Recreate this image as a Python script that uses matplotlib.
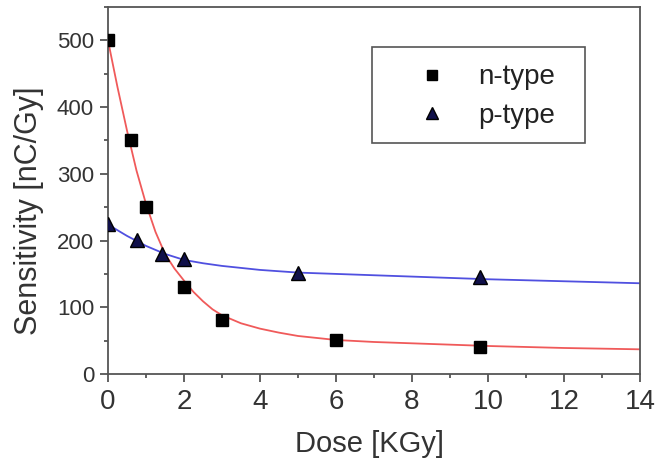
import matplotlib
matplotlib.use("Agg")
import matplotlib.pyplot as plt
from matplotlib.ticker import MultipleLocator
from matplotlib.patches import Rectangle

plt.rcParams['font.family'] = ['Liberation Sans', 'DejaVu Sans']

# measured points
n_dose = [0, 0.6, 1, 2, 3, 6, 9.8]
n_sens = [500, 350, 250, 130, 81, 51, 40]
p_dose = [0, 0.77, 1.42, 2, 5, 9.8]
p_sens = [225, 201, 180, 173, 152, 145]

# fitted curves
n_fit_x = [0, 0.25, 0.5, 0.75, 1, 1.25, 1.5, 1.75, 2, 2.25, 2.5, 2.75, 3, 3.5, 4, 4.5, 5, 6, 7, 8, 10, 12, 14]
n_fit_y = [500, 430, 365, 305, 255, 213, 180, 158, 140, 123, 109, 97, 88, 76, 68, 62, 57, 51, 48, 46, 42, 39, 37]
p_fit_x = [0, 0.5, 1, 1.5, 2, 2.5, 3, 4, 5, 6, 8, 10, 12, 14]
p_fit_y = [224, 207, 192, 180, 171, 166, 162, 156, 152, 150, 146, 142, 139, 136]

fig = plt.figure(figsize=(6.6, 4.61), dpi=100)
ax = fig.add_axes([0.1636, 0.1887, 0.8061, 0.7961])

ax.plot(n_fit_x, n_fit_y, color='#f05a5a', lw=1.3, zorder=2)
ax.plot(p_fit_x, p_fit_y, color='#5050e0', lw=1.3, zorder=2)
ax.plot(n_dose, n_sens, ls='none', marker='s', ms=8, color='black', label='n-type', zorder=3)
ax.plot(p_dose, p_sens, ls='none', marker='^', ms=9.5, color='#10104a', mec='black', label='p-type', zorder=3)

ax.set_xlim(0, 14)
ax.set_ylim(0, 550)
ax.xaxis.set_major_locator(MultipleLocator(2))
ax.xaxis.set_minor_locator(MultipleLocator(1))
ax.yaxis.set_major_locator(MultipleLocator(100))
ax.yaxis.set_minor_locator(MultipleLocator(50))

for s in ax.spines.values():
    s.set_color('#555555')
    s.set_linewidth(1.3)
ax.tick_params(which='major', direction='out', length=6, width=1.3, color='#555555',
               labelcolor='#333333')
ax.tick_params(which='minor', direction='out', length=3, width=1.3, color='#555555')
ax.tick_params(axis='x', which='major', labelsize=20, pad=5)
ax.tick_params(axis='y', which='major', labelsize=16, pad=4)

ax.set_xlabel('Dose [KGy]', fontsize=21, color='#333333', va='baseline')
ax.xaxis.set_label_coords(0.492, -0.2125)
ax.set_ylabel('Sensitivity [nC/Gy]', fontsize=22, color='#333333', va='baseline')
ax.yaxis.set_label_coords(-0.1335, 0.444)

# legend frame drawn separately so its size matches the original
ax.add_patch(Rectangle((0.496, 0.629), 0.401, 0.262, transform=ax.transAxes,
                       fill=False, ec='#555555', lw=1.2, zorder=4))
leg = ax.legend(loc='center', bbox_to_anchor=(0.699, 0.756), borderaxespad=0,
                fontsize=20, frameon=False, handlelength=2.0, handletextpad=0.66,
                borderpad=0, labelspacing=0.45, markerscale=0.95)
for t in leg.get_texts():
    t.set_color('#222222')

fig.savefig('out.png', dpi=100)
